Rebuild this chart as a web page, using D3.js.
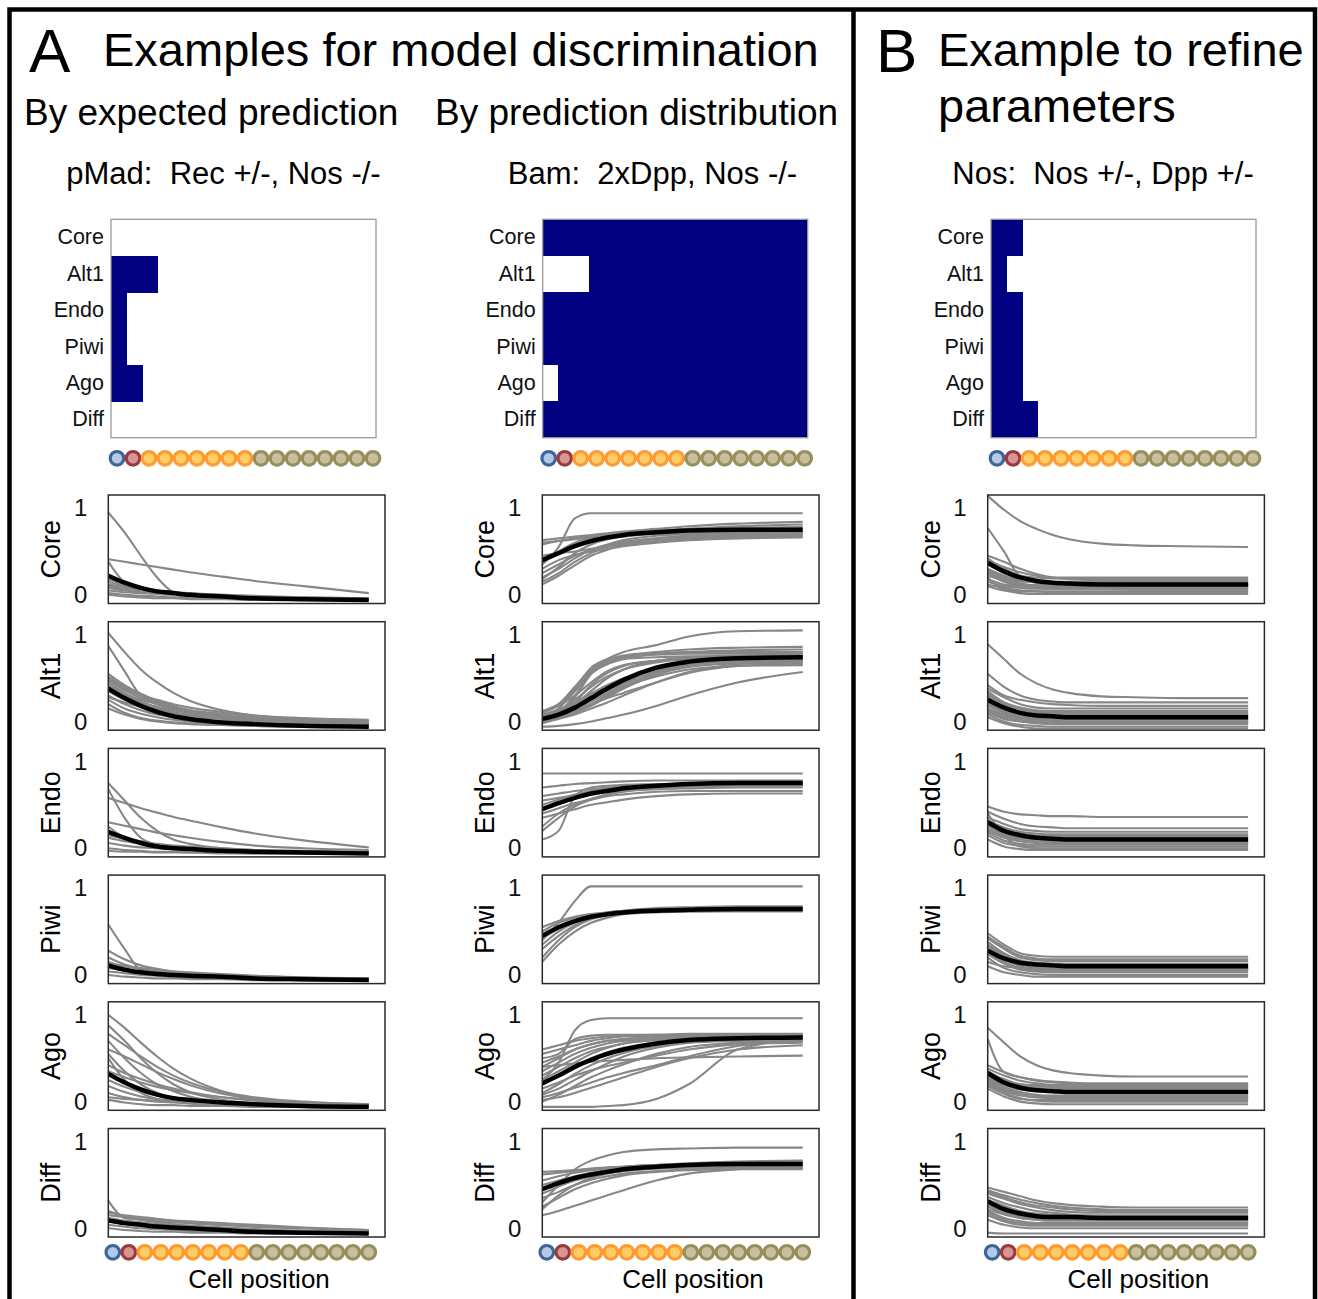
<!DOCTYPE html>
<html>
<head>
<meta charset="utf-8">
<script src="https://cdn.jsdelivr.net/npm/d3@7"></script>
<style>
  body { margin: 0; background: #fff; }
  svg { display: block; font-family: "Liberation Sans", Arial, sans-serif; }
</style>
</head>
<body>
<div id="fig"></div>
<script>
// ---- data ----
const genes = ["Core", "Alt1", "Endo", "Piwi", "Ago", "Diff"];
// 0 = GSC, 1 = CB, 2 = early cyst, 3 = late cyst
const cellStages = [0, 1, 2, 2, 2, 2, 2, 2, 2, 3, 3, 3, 3, 3, 3, 3, 3];
const stageStroke = ["#3b6697", "#973c3c", "#ff9a33", "#968f5b"];
const stageFill = ["#b3c9e5", "#d99495", "#ffcd66", "#c9bf9f"];
// cell indexes where each curve below was read
const sampleCells = [0, 1, 2, 3, 4, 5, 7, 9, 12, 16];
const yTicks = [0, 1];

const columnTitles = ["pMad:  Rec +/-, Nos -/-", "Bam:  2xDpp, Nos -/-", "Nos:  Nos +/-, Dpp +/-"];

// heatmap rows (Core..Diff), one char per cell, 1 = filled
const heatPMad = [
  "00000000000000000",
  "11100000000000000",
  "10000000000000000",
  "10000000000000000",
  "11000000000000000",
  "00000000000000000"
];
const heatBam = [
  "11111111111111111",
  "00011111111111111",
  "11111111111111111",
  "11111111111111111",
  "01111111111111111",
  "11111111111111111"
];
const heatNos = [
  "11000000000000000",
  "10000000000000000",
  "11000000000000000",
  "11000000000000000",
  "11000000000000000",
  "11100000000000000"
];

// mean prediction per gene
const pMadMean = [
  [0.22, 0.14, 0.08, 0.04, 0.02, 0.0, -0.02, -0.04, -0.05, -0.06],
  [0.38, 0.27, 0.18, 0.11, 0.06, 0.03, -0.01, -0.03, -0.05, -0.06],
  [0.19, 0.12, 0.06, 0.02, 0.0, -0.01, -0.03, -0.04, -0.05, -0.06],
  [0.11, 0.06, 0.03, 0.01, 0.0, -0.01, -0.02, -0.04, -0.05, -0.06],
  [0.32, 0.22, 0.14, 0.08, 0.04, 0.02, -0.01, -0.03, -0.05, -0.06],
  [0.09, 0.06, 0.04, 0.02, 0.01, 0.0, -0.02, -0.04, -0.05, -0.06]
];
const bamMean = [
  [0.4, 0.48, 0.56, 0.62, 0.66, 0.69, 0.72, 0.74, 0.75, 0.75],
  [0.03, 0.08, 0.16, 0.27, 0.38, 0.48, 0.62, 0.69, 0.73, 0.74],
  [0.45, 0.52, 0.58, 0.63, 0.66, 0.69, 0.72, 0.74, 0.75, 0.75],
  [0.45, 0.55, 0.62, 0.67, 0.7, 0.72, 0.74, 0.75, 0.76, 0.76],
  [0.21, 0.3, 0.4, 0.48, 0.55, 0.6, 0.67, 0.71, 0.73, 0.74],
  [0.45, 0.52, 0.58, 0.62, 0.65, 0.68, 0.71, 0.73, 0.74, 0.74]
];
const nosMean = [
  [0.37, 0.27, 0.2, 0.16, 0.14, 0.13, 0.12, 0.12, 0.12, 0.12],
  [0.25, 0.16, 0.1, 0.07, 0.06, 0.05, 0.05, 0.05, 0.05, 0.05],
  [0.3, 0.2, 0.15, 0.12, 0.11, 0.1, 0.1, 0.1, 0.1, 0.1],
  [0.28, 0.19, 0.14, 0.12, 0.11, 0.1, 0.1, 0.1, 0.1, 0.1],
  [0.33, 0.22, 0.16, 0.13, 0.12, 0.11, 0.11, 0.11, 0.11, 0.11],
  [0.31, 0.22, 0.17, 0.14, 0.13, 0.13, 0.12, 0.12, 0.12, 0.12]
];

// individual parameter sets, pMad column
const pMadCore = [
  [0.95, 0.72, 0.45, 0.2, 0.03, -0.01, -0.03, -0.04, -0.05, -0.06],
  [0.41, 0.38, 0.35, 0.32, 0.29, 0.26, 0.21, 0.16, 0.1, 0.02],
  [0.38, 0.14, 0.06, 0.03, 0.01, 0.0, -0.02, -0.03, -0.05, -0.06],
  [0.15, 0.1, 0.06, 0.03, 0.01, 0.0, -0.02, -0.03, -0.04, -0.05],
  [0.12, 0.09, 0.06, 0.04, 0.02, 0.01, -0.01, -0.03, -0.04, -0.05],
  [0.08, 0.05, 0.03, 0.01, 0.0, -0.01, -0.02, -0.03, -0.05, -0.06],
  [0.05, 0.03, 0.02, 0.01, 0.0, -0.01, -0.02, -0.03, -0.04, -0.05],
  [0.02, 0.0, -0.01, -0.02, -0.03, -0.03, -0.04, -0.05, -0.06, -0.06],
  [0.0, -0.02, -0.03, -0.04, -0.04, -0.05, -0.05, -0.06, -0.06, -0.06],
  [0.18, 0.12, 0.08, 0.05, 0.03, 0.02, 0.0, -0.02, -0.03, -0.04],
  [0.1, 0.07, 0.05, 0.03, 0.02, 0.01, 0.0, -0.01, -0.03, -0.04]
];
const pMadAlt1 = [
  [1.02, 0.8, 0.6, 0.45, 0.33, 0.24, 0.13, 0.07, 0.03, 0.0],
  [0.87, 0.58, 0.3, 0.22, 0.16, 0.12, 0.07, 0.04, 0.02, 0.0],
  [0.55, 0.42, 0.32, 0.24, 0.18, 0.13, 0.07, 0.04, 0.01, -0.02],
  [0.5, 0.38, 0.3, 0.25, 0.2, 0.16, 0.11, 0.07, 0.04, 0.02],
  [0.48, 0.36, 0.27, 0.2, 0.14, 0.1, 0.05, 0.02, 0.0, -0.02],
  [0.45, 0.33, 0.23, 0.16, 0.11, 0.07, 0.03, 0.01, -0.01, -0.03],
  [0.42, 0.32, 0.25, 0.2, 0.16, 0.13, 0.09, 0.06, 0.03, 0.01],
  [0.35, 0.25, 0.17, 0.11, 0.07, 0.04, 0.0, -0.02, -0.03, -0.04],
  [0.3, 0.2, 0.13, 0.08, 0.05, 0.02, -0.01, -0.03, -0.04, -0.05],
  [0.25, 0.15, 0.09, 0.05, 0.02, 0.0, -0.02, -0.03, -0.05, -0.06],
  [0.2, 0.1, 0.04, 0.01, -0.01, -0.02, -0.04, -0.05, -0.06, -0.06],
  [0.15, 0.08, 0.03, 0.0, -0.02, -0.03, -0.04, -0.05, -0.06, -0.06],
  [0.4, 0.3, 0.22, 0.17, 0.13, 0.1, 0.06, 0.03, 0.01, 0.0],
  [0.38, 0.28, 0.2, 0.14, 0.1, 0.07, 0.03, 0.0, -0.02, -0.03],
  [0.52, 0.4, 0.3, 0.23, 0.17, 0.12, 0.06, 0.02, 0.0, -0.02],
  [0.28, 0.22, 0.17, 0.13, 0.1, 0.08, 0.05, 0.03, 0.01, 0.0]
];
const pMadEndo = [
  [0.75, 0.55, 0.35, 0.2, 0.1, 0.05, 0.0, -0.02, -0.04, -0.05],
  [0.68, 0.35, 0.12, 0.04, 0.0, -0.02, -0.03, -0.04, -0.05, -0.06],
  [0.58, 0.52, 0.46, 0.41, 0.36, 0.32, 0.24, 0.17, 0.09, 0.01],
  [0.3, 0.26, 0.22, 0.18, 0.15, 0.12, 0.07, 0.03, 0.0, -0.02],
  [0.2, 0.13, 0.08, 0.04, 0.01, 0.0, -0.02, -0.03, -0.04, -0.05],
  [0.12, 0.08, 0.05, 0.02, 0.0, -0.01, -0.02, -0.04, -0.05, -0.06],
  [0.06, 0.03, 0.01, 0.0, -0.01, -0.02, -0.03, -0.04, -0.05, -0.06],
  [0.0, -0.02, -0.03, -0.04, -0.04, -0.05, -0.05, -0.06, -0.06, -0.06],
  [0.15, 0.11, 0.08, 0.05, 0.03, 0.02, 0.0, -0.02, -0.03, -0.04],
  [0.25, 0.12, 0.05, 0.02, 0.0, -0.01, -0.03, -0.04, -0.05, -0.06],
  [-0.03, -0.04, -0.04, -0.05, -0.05, -0.05, -0.06, -0.06, -0.06, -0.06]
];
const pMadPiwi = [
  [0.58, 0.3, 0.05, 0.0, -0.02, -0.03, -0.04, -0.05, -0.06, -0.06],
  [0.28, 0.18, 0.11, 0.07, 0.04, 0.02, 0.0, -0.02, -0.03, -0.04],
  [0.2, 0.12, 0.07, 0.04, 0.02, 0.0, -0.02, -0.03, -0.04, -0.05],
  [0.15, 0.1, 0.07, 0.05, 0.03, 0.02, 0.0, -0.01, -0.03, -0.04],
  [0.08, 0.05, 0.03, 0.01, 0.0, -0.01, -0.02, -0.03, -0.05, -0.06],
  [0.04, 0.02, 0.0, -0.01, -0.02, -0.03, -0.04, -0.05, -0.06, -0.06],
  [0.0, -0.02, -0.03, -0.04, -0.04, -0.05, -0.05, -0.06, -0.06, -0.06],
  [0.12, 0.1, 0.08, 0.06, 0.04, 0.03, 0.01, -0.01, -0.03, -0.04]
];
const pMadAgo = [
  [1.0, 0.85, 0.68, 0.52, 0.38, 0.27, 0.12, 0.04, -0.02, -0.04],
  [0.88, 0.7, 0.5, 0.33, 0.2, 0.11, 0.02, -0.02, -0.04, -0.05],
  [0.78, 0.65, 0.52, 0.4, 0.3, 0.22, 0.11, 0.05, 0.0, -0.03],
  [0.7, 0.5, 0.33, 0.2, 0.12, 0.06, 0.0, -0.03, -0.04, -0.05],
  [0.6, 0.52, 0.43, 0.34, 0.26, 0.19, 0.09, 0.03, -0.01, -0.03],
  [0.55, 0.35, 0.2, 0.1, 0.04, 0.0, -0.03, -0.04, -0.05, -0.06],
  [0.5, 0.25, 0.1, 0.03, 0.0, -0.02, -0.04, -0.05, -0.06, -0.06],
  [0.42, 0.33, 0.26, 0.2, 0.15, 0.11, 0.05, 0.01, -0.02, -0.04],
  [0.35, 0.28, 0.22, 0.17, 0.13, 0.1, 0.05, 0.02, -0.01, -0.03],
  [0.25, 0.17, 0.11, 0.07, 0.04, 0.02, -0.01, -0.03, -0.04, -0.05],
  [0.18, 0.11, 0.06, 0.03, 0.01, 0.0, -0.02, -0.04, -0.05, -0.06],
  [0.1, 0.05, 0.02, 0.0, -0.01, -0.02, -0.03, -0.04, -0.05, -0.06],
  [0.02, -0.01, -0.03, -0.04, -0.04, -0.05, -0.05, -0.06, -0.06, -0.06],
  [0.05, 0.03, 0.02, 0.01, 0.0, -0.01, -0.02, -0.03, -0.04, -0.05]
];
const pMadDiff = [
  [0.32, 0.12, 0.1, 0.08, 0.07, 0.06, 0.04, 0.02, 0.0, -0.02],
  [0.18, 0.15, 0.13, 0.11, 0.09, 0.08, 0.06, 0.04, 0.01, -0.02],
  [0.15, 0.13, 0.11, 0.09, 0.08, 0.06, 0.04, 0.02, 0.0, -0.03],
  [0.12, 0.09, 0.07, 0.05, 0.04, 0.03, 0.01, -0.01, -0.03, -0.04],
  [0.08, 0.05, 0.03, 0.02, 0.01, 0.0, -0.02, -0.03, -0.05, -0.06],
  [0.04, 0.02, 0.0, -0.01, -0.02, -0.03, -0.04, -0.05, -0.06, -0.06],
  [0.0, -0.02, -0.03, -0.04, -0.04, -0.05, -0.05, -0.06, -0.06, -0.06],
  [0.2, 0.14, 0.1, 0.07, 0.05, 0.03, 0.01, -0.01, -0.03, -0.04]
];

// Bam column
const bamCore = [
  [0.35, 0.55, 0.88, 0.94, 0.94, 0.94, 0.94, 0.94, 0.94, 0.94],
  [0.63, 0.65, 0.67, 0.69, 0.71, 0.73, 0.76, 0.79, 0.82, 0.84],
  [0.6, 0.62, 0.64, 0.66, 0.68, 0.7, 0.73, 0.76, 0.79, 0.81],
  [0.58, 0.62, 0.65, 0.68, 0.7, 0.72, 0.74, 0.76, 0.77, 0.78],
  [0.2, 0.3, 0.42, 0.52, 0.58, 0.63, 0.68, 0.7, 0.71, 0.72],
  [0.15, 0.25, 0.38, 0.48, 0.55, 0.6, 0.65, 0.68, 0.69, 0.7],
  [0.12, 0.22, 0.34, 0.45, 0.52, 0.58, 0.64, 0.67, 0.68, 0.69],
  [0.3, 0.4, 0.46, 0.5, 0.53, 0.56, 0.6, 0.63, 0.65, 0.66],
  [0.25, 0.35, 0.45, 0.52, 0.57, 0.61, 0.65, 0.67, 0.68, 0.68],
  [0.45, 0.48, 0.5, 0.53, 0.56, 0.58, 0.62, 0.65, 0.67, 0.68],
  [0.18, 0.32, 0.48, 0.58, 0.64, 0.67, 0.7, 0.71, 0.72, 0.72],
  [0.38, 0.5, 0.6, 0.66, 0.7, 0.72, 0.74, 0.75, 0.76, 0.76]
];
const bamAlt1 = [
  [0.02, 0.1, 0.28, 0.55, 0.72, 0.8, 0.88, 0.98, 1.04, 1.05],
  [0.03, 0.15, 0.38, 0.62, 0.72, 0.76, 0.8, 0.83, 0.85, 0.86],
  [0.0, 0.1, 0.3, 0.55, 0.66, 0.72, 0.78, 0.8, 0.82, 0.83],
  [0.05, 0.12, 0.25, 0.4, 0.52, 0.6, 0.68, 0.72, 0.74, 0.75],
  [0.08, 0.14, 0.22, 0.32, 0.42, 0.5, 0.6, 0.66, 0.69, 0.7],
  [0.0, 0.05, 0.12, 0.2, 0.3, 0.4, 0.56, 0.65, 0.7, 0.72],
  [0.02, 0.06, 0.12, 0.2, 0.27, 0.33, 0.45, 0.56, 0.64, 0.67],
  [-0.02, 0.03, 0.08, 0.15, 0.22, 0.3, 0.45, 0.57, 0.66, 0.7],
  [0.1, 0.18, 0.3, 0.45, 0.58, 0.65, 0.7, 0.72, 0.73, 0.73],
  [-0.06, -0.05, -0.03, 0.0, 0.04, 0.08, 0.18, 0.3, 0.45, 0.57],
  [0.04, 0.1, 0.2, 0.35, 0.5, 0.6, 0.7, 0.74, 0.76, 0.77],
  [0.06, 0.1, 0.17, 0.26, 0.36, 0.45, 0.58, 0.66, 0.7, 0.71],
  [0.0, 0.04, 0.1, 0.18, 0.28, 0.38, 0.54, 0.63, 0.67, 0.68],
  [0.12, 0.2, 0.35, 0.55, 0.68, 0.74, 0.78, 0.8, 0.8, 0.8],
  [0.02, 0.08, 0.15, 0.24, 0.32, 0.4, 0.52, 0.6, 0.64, 0.65],
  [0.05, 0.15, 0.35, 0.58, 0.68, 0.72, 0.74, 0.75, 0.75, 0.75],
  [0.0, 0.08, 0.22, 0.42, 0.56, 0.64, 0.7, 0.72, 0.72, 0.72],
  [0.07, 0.12, 0.2, 0.3, 0.4, 0.48, 0.6, 0.67, 0.71, 0.72],
  [0.03, 0.07, 0.14, 0.23, 0.33, 0.43, 0.58, 0.67, 0.71, 0.73],
  [0.1, 0.2, 0.4, 0.6, 0.7, 0.74, 0.77, 0.78, 0.78, 0.78]
];
const bamEndo = [
  [0.86, 0.86, 0.86, 0.86, 0.86, 0.86, 0.86, 0.86, 0.86, 0.86],
  [0.7, 0.72, 0.74, 0.75, 0.76, 0.77, 0.78, 0.78, 0.78, 0.78],
  [0.1, 0.2, 0.6, 0.7, 0.72, 0.73, 0.74, 0.74, 0.74, 0.74],
  [0.25, 0.4, 0.5, 0.57, 0.62, 0.65, 0.69, 0.71, 0.72, 0.72],
  [0.55, 0.58, 0.61, 0.63, 0.65, 0.66, 0.68, 0.69, 0.7, 0.7],
  [0.4, 0.46, 0.52, 0.56, 0.6, 0.62, 0.65, 0.66, 0.66, 0.66],
  [0.35, 0.4, 0.45, 0.5, 0.53, 0.56, 0.6, 0.62, 0.63, 0.63],
  [0.5, 0.56, 0.62, 0.66, 0.69, 0.71, 0.73, 0.75, 0.76, 0.76],
  [0.2, 0.35, 0.48, 0.56, 0.62, 0.66, 0.7, 0.72, 0.73, 0.73],
  [0.6, 0.63, 0.66, 0.68, 0.7, 0.71, 0.72, 0.73, 0.73, 0.73]
];
const bamPiwi = [
  [0.4, 0.6, 0.85, 1.02, 1.02, 1.02, 1.02, 1.02, 1.02, 1.02],
  [0.2, 0.4, 0.55, 0.64, 0.69, 0.72, 0.74, 0.75, 0.75, 0.75],
  [0.3, 0.45, 0.57, 0.65, 0.7, 0.72, 0.74, 0.75, 0.76, 0.76],
  [0.5, 0.6, 0.66, 0.7, 0.72, 0.74, 0.76, 0.77, 0.78, 0.78],
  [0.55, 0.62, 0.67, 0.7, 0.72, 0.73, 0.74, 0.74, 0.74, 0.74],
  [0.35, 0.5, 0.6, 0.66, 0.7, 0.72, 0.73, 0.73, 0.73, 0.73],
  [0.42, 0.53, 0.62, 0.68, 0.72, 0.74, 0.77, 0.78, 0.79, 0.79],
  [0.15, 0.35, 0.5, 0.6, 0.66, 0.7, 0.72, 0.73, 0.74, 0.74]
];
const bamAgo = [
  [0.25, 0.45, 0.82, 0.94, 0.96, 0.96, 0.96, 0.96, 0.96, 0.96],
  [0.5, 0.55, 0.72, 0.76, 0.77, 0.77, 0.77, 0.77, 0.77, 0.77],
  [0.55, 0.6, 0.65, 0.7, 0.73, 0.75, 0.76, 0.77, 0.77, 0.77],
  [-0.06, -0.06, -0.06, -0.06, -0.05, -0.04, 0.03, 0.2, 0.6, 0.72],
  [0.4, 0.42, 0.44, 0.46, 0.47, 0.48, 0.5, 0.51, 0.52, 0.53],
  [0.0, 0.08, 0.18, 0.28, 0.36, 0.43, 0.55, 0.63, 0.68, 0.7],
  [0.1, 0.2, 0.32, 0.42, 0.5, 0.56, 0.64, 0.68, 0.7, 0.71],
  [0.3, 0.4, 0.5, 0.58, 0.63, 0.67, 0.71, 0.73, 0.74, 0.74],
  [0.45, 0.52, 0.6, 0.66, 0.7, 0.72, 0.74, 0.75, 0.75, 0.75],
  [0.05, 0.1, 0.16, 0.22, 0.28, 0.33, 0.42, 0.52, 0.64, 0.7],
  [0.15, 0.22, 0.3, 0.36, 0.41, 0.45, 0.53, 0.6, 0.66, 0.68],
  [0.35, 0.45, 0.55, 0.62, 0.67, 0.7, 0.72, 0.73, 0.73, 0.73],
  [0.2, 0.3, 0.4, 0.5, 0.57, 0.62, 0.68, 0.71, 0.72, 0.72],
  [0.02, 0.05, 0.1, 0.16, 0.22, 0.28, 0.4, 0.5, 0.6, 0.65],
  [0.6, 0.65, 0.7, 0.73, 0.75, 0.76, 0.77, 0.78, 0.78, 0.78],
  [0.25, 0.35, 0.45, 0.55, 0.62, 0.67, 0.71, 0.73, 0.74, 0.74],
  [0.4, 0.5, 0.6, 0.66, 0.7, 0.72, 0.74, 0.75, 0.76, 0.76],
  [0.08, 0.15, 0.25, 0.35, 0.44, 0.52, 0.62, 0.68, 0.71, 0.72]
];
const bamDiff = [
  [0.3, 0.5, 0.68, 0.78, 0.84, 0.88, 0.91, 0.92, 0.93, 0.93],
  [0.65, 0.66, 0.67, 0.69, 0.7, 0.71, 0.73, 0.75, 0.77, 0.78],
  [0.62, 0.64, 0.66, 0.68, 0.7, 0.71, 0.73, 0.74, 0.75, 0.76],
  [0.15, 0.2, 0.26, 0.32, 0.38, 0.44, 0.55, 0.63, 0.68, 0.7],
  [0.22, 0.38, 0.5, 0.58, 0.63, 0.66, 0.69, 0.7, 0.71, 0.71],
  [0.35, 0.42, 0.5, 0.56, 0.6, 0.63, 0.66, 0.68, 0.69, 0.69],
  [0.4, 0.48, 0.55, 0.6, 0.64, 0.66, 0.69, 0.7, 0.7, 0.7],
  [0.25, 0.35, 0.45, 0.52, 0.57, 0.61, 0.65, 0.67, 0.68, 0.68],
  [0.5, 0.55, 0.6, 0.64, 0.67, 0.69, 0.72, 0.73, 0.74, 0.74],
  [0.55, 0.6, 0.64, 0.67, 0.69, 0.71, 0.73, 0.74, 0.75, 0.75]
];

// Nos column
const nosCore = [
  [1.14, 0.98, 0.85, 0.76, 0.69, 0.64, 0.59, 0.57, 0.56, 0.55],
  [0.77, 0.5, 0.22, 0.2, 0.19, 0.19, 0.19, 0.19, 0.19, 0.19],
  [0.45, 0.38, 0.3, 0.24, 0.2, 0.18, 0.17, 0.17, 0.17, 0.17],
  [0.42, 0.3, 0.22, 0.17, 0.14, 0.13, 0.12, 0.12, 0.12, 0.12],
  [0.4, 0.32, 0.26, 0.22, 0.2, 0.2, 0.2, 0.2, 0.2, 0.2],
  [0.3, 0.22, 0.17, 0.14, 0.13, 0.12, 0.12, 0.12, 0.12, 0.12],
  [0.35, 0.25, 0.18, 0.14, 0.11, 0.1, 0.09, 0.09, 0.09, 0.09],
  [0.2, 0.06, 0.04, 0.04, 0.04, 0.04, 0.04, 0.04, 0.04, 0.04],
  [0.15, 0.1, 0.08, 0.07, 0.07, 0.07, 0.07, 0.07, 0.07, 0.07],
  [0.25, 0.15, 0.1, 0.08, 0.07, 0.07, 0.07, 0.06, 0.06, 0.06],
  [0.1, 0.05, 0.02, 0.01, 0.01, 0.01, 0.01, 0.01, 0.01, 0.01],
  [0.3, 0.18, 0.13, 0.11, 0.11, 0.11, 0.1, 0.1, 0.1, 0.1],
  [0.22, 0.17, 0.15, 0.15, 0.15, 0.15, 0.15, 0.15, 0.15, 0.15],
  [0.12, 0.08, 0.05, 0.04, 0.03, 0.03, 0.03, 0.03, 0.03, 0.03],
  [0.28, 0.2, 0.16, 0.15, 0.14, 0.14, 0.14, 0.14, 0.14, 0.14],
  [0.18, 0.12, 0.1, 0.09, 0.09, 0.09, 0.09, 0.09, 0.09, 0.09],
  [0.26, 0.16, 0.12, 0.11, 0.11, 0.11, 0.11, 0.11, 0.11, 0.11]
];
const nosAlt1 = [
  [0.89, 0.72, 0.55, 0.44, 0.37, 0.33, 0.29, 0.28, 0.27, 0.27],
  [0.55, 0.4, 0.3, 0.25, 0.23, 0.22, 0.22, 0.22, 0.22, 0.22],
  [0.42, 0.3, 0.25, 0.22, 0.2, 0.19, 0.18, 0.18, 0.18, 0.18],
  [0.38, 0.28, 0.2, 0.16, 0.15, 0.15, 0.15, 0.15, 0.15, 0.15],
  [0.35, 0.22, 0.15, 0.12, 0.11, 0.11, 0.11, 0.11, 0.11, 0.11],
  [0.3, 0.2, 0.14, 0.11, 0.09, 0.08, 0.08, 0.08, 0.08, 0.08],
  [0.22, 0.12, 0.07, 0.04, 0.03, 0.03, 0.03, 0.03, 0.03, 0.03],
  [0.18, 0.1, 0.05, 0.02, 0.01, 0.0, 0.0, 0.0, 0.0, 0.0],
  [0.12, 0.04, 0.0, -0.02, -0.03, -0.03, -0.03, -0.03, -0.03, -0.03],
  [0.08, 0.0, -0.04, -0.05, -0.06, -0.06, -0.06, -0.06, -0.06, -0.06],
  [0.05, -0.02, -0.06, -0.08, -0.08, -0.08, -0.08, -0.08, -0.08, -0.08],
  [0.28, 0.15, 0.1, 0.08, 0.07, 0.07, 0.07, 0.07, 0.07, 0.07],
  [0.15, 0.08, 0.04, 0.02, 0.02, 0.02, 0.02, 0.02, 0.02, 0.02],
  [0.25, 0.17, 0.12, 0.1, 0.09, 0.09, 0.09, 0.09, 0.09, 0.09],
  [0.2, 0.12, 0.08, 0.06, 0.05, 0.05, 0.05, 0.05, 0.05, 0.05],
  [0.1, 0.03, 0.0, -0.01, -0.01, -0.01, -0.01, -0.01, -0.01, -0.01],
  [0.32, 0.22, 0.16, 0.13, 0.12, 0.12, 0.12, 0.12, 0.12, 0.12],
  [0.14, 0.06, 0.02, 0.0, -0.01, -0.01, -0.01, -0.01, -0.01, -0.01]
];
const nosEndo = [
  [0.48, 0.42, 0.39, 0.38, 0.37, 0.37, 0.36, 0.36, 0.36, 0.36],
  [0.42, 0.34, 0.28, 0.25, 0.24, 0.23, 0.23, 0.23, 0.23, 0.23],
  [0.35, 0.28, 0.22, 0.2, 0.19, 0.19, 0.19, 0.19, 0.19, 0.19],
  [0.3, 0.22, 0.17, 0.15, 0.14, 0.14, 0.14, 0.14, 0.14, 0.14],
  [0.25, 0.16, 0.12, 0.1, 0.09, 0.09, 0.09, 0.09, 0.09, 0.09],
  [0.2, 0.12, 0.08, 0.06, 0.05, 0.05, 0.05, 0.05, 0.05, 0.05],
  [0.15, 0.06, 0.03, 0.02, 0.02, 0.02, 0.02, 0.02, 0.02, 0.02],
  [0.4, 0.15, 0.02, 0.0, 0.0, 0.0, 0.0, 0.0, 0.0, 0.0],
  [0.1, 0.02, -0.01, -0.02, -0.02, -0.02, -0.02, -0.02, -0.02, -0.02],
  [0.28, 0.2, 0.16, 0.14, 0.13, 0.13, 0.13, 0.13, 0.13, 0.13],
  [0.32, 0.24, 0.19, 0.17, 0.16, 0.16, 0.16, 0.16, 0.16, 0.16],
  [0.22, 0.14, 0.1, 0.08, 0.07, 0.07, 0.07, 0.07, 0.07, 0.07],
  [0.18, 0.09, 0.05, 0.04, 0.04, 0.04, 0.04, 0.04, 0.04, 0.04]
];
const nosPiwi = [
  [0.48, 0.35, 0.25, 0.22, 0.21, 0.21, 0.21, 0.21, 0.21, 0.21],
  [0.42, 0.3, 0.2, 0.17, 0.16, 0.16, 0.16, 0.16, 0.16, 0.16],
  [0.38, 0.25, 0.17, 0.14, 0.13, 0.13, 0.13, 0.13, 0.13, 0.13],
  [0.33, 0.22, 0.14, 0.11, 0.1, 0.1, 0.1, 0.1, 0.1, 0.1],
  [0.28, 0.18, 0.1, 0.07, 0.06, 0.06, 0.06, 0.06, 0.06, 0.06],
  [0.24, 0.13, 0.06, 0.04, 0.03, 0.03, 0.03, 0.03, 0.03, 0.03],
  [0.2, 0.08, 0.03, 0.01, 0.0, 0.0, 0.0, 0.0, 0.0, 0.0],
  [0.15, 0.1, 0.08, 0.07, 0.07, 0.07, 0.07, 0.07, 0.07, 0.07],
  [0.1, 0.03, 0.0, -0.02, -0.02, -0.02, -0.02, -0.02, -0.02, -0.02],
  [0.3, 0.2, 0.12, 0.09, 0.08, 0.08, 0.08, 0.08, 0.08, 0.08],
  [0.44, 0.32, 0.22, 0.19, 0.18, 0.18, 0.18, 0.18, 0.18, 0.18],
  [0.35, 0.24, 0.16, 0.12, 0.12, 0.12, 0.12, 0.12, 0.12, 0.12],
  [0.26, 0.15, 0.08, 0.05, 0.05, 0.05, 0.05, 0.05, 0.05, 0.05]
];
const nosAgo = [
  [0.85, 0.68, 0.52, 0.42, 0.36, 0.33, 0.3, 0.29, 0.29, 0.29],
  [0.72, 0.34, 0.28, 0.24, 0.22, 0.21, 0.2, 0.2, 0.2, 0.2],
  [0.42, 0.34, 0.28, 0.25, 0.23, 0.22, 0.21, 0.21, 0.21, 0.21],
  [0.38, 0.3, 0.24, 0.21, 0.19, 0.18, 0.18, 0.18, 0.18, 0.18],
  [0.35, 0.25, 0.19, 0.16, 0.15, 0.15, 0.15, 0.15, 0.15, 0.15],
  [0.3, 0.21, 0.15, 0.12, 0.11, 0.11, 0.11, 0.11, 0.11, 0.11],
  [0.27, 0.17, 0.11, 0.08, 0.07, 0.07, 0.07, 0.07, 0.07, 0.07],
  [0.24, 0.14, 0.08, 0.05, 0.04, 0.04, 0.04, 0.04, 0.04, 0.04],
  [0.2, 0.1, 0.04, 0.01, 0.0, 0.0, 0.0, 0.0, 0.0, 0.0],
  [0.15, 0.06, 0.0, -0.02, -0.03, -0.03, -0.03, -0.03, -0.03, -0.03],
  [0.32, 0.24, 0.2, 0.18, 0.17, 0.17, 0.17, 0.17, 0.17, 0.17],
  [0.25, 0.15, 0.1, 0.07, 0.06, 0.06, 0.06, 0.06, 0.06, 0.06],
  [0.28, 0.19, 0.14, 0.13, 0.13, 0.13, 0.13, 0.13, 0.13, 0.13],
  [0.22, 0.12, 0.07, 0.05, 0.05, 0.05, 0.05, 0.05, 0.05, 0.05],
  [0.18, 0.09, 0.03, 0.02, 0.02, 0.02, 0.02, 0.02, 0.02, 0.02],
  [0.34, 0.26, 0.2, 0.19, 0.19, 0.19, 0.19, 0.19, 0.19, 0.19]
];
const nosDiff = [
  [0.47, 0.42, 0.37, 0.32, 0.29, 0.27, 0.25, 0.24, 0.24, 0.24],
  [0.44, 0.38, 0.33, 0.29, 0.26, 0.24, 0.22, 0.21, 0.21, 0.21],
  [0.4, 0.34, 0.28, 0.24, 0.21, 0.19, 0.18, 0.18, 0.18, 0.18],
  [0.36, 0.29, 0.24, 0.2, 0.18, 0.16, 0.15, 0.15, 0.15, 0.15],
  [0.3, 0.22, 0.17, 0.14, 0.13, 0.12, 0.12, 0.12, 0.12, 0.12],
  [0.25, 0.17, 0.12, 0.1, 0.09, 0.09, 0.09, 0.09, 0.09, 0.09],
  [0.2, 0.12, 0.08, 0.06, 0.06, 0.06, 0.06, 0.06, 0.06, 0.06],
  [0.15, 0.08, 0.04, 0.03, 0.03, 0.03, 0.03, 0.03, 0.03, 0.03],
  [0.1, 0.04, 0.01, 0.0, 0.0, 0.0, 0.0, 0.0, 0.0, 0.0],
  [-0.05, -0.06, -0.06, -0.06, -0.06, -0.06, -0.06, -0.06, -0.06, -0.06],
  [0.22, 0.16, 0.12, 0.1, 0.09, 0.09, 0.09, 0.09, 0.09, 0.09],
  [0.33, 0.26, 0.2, 0.17, 0.16, 0.15, 0.14, 0.14, 0.14, 0.14],
  [0.27, 0.19, 0.14, 0.11, 0.1, 0.1, 0.1, 0.1, 0.1, 0.1],
  [0.42, 0.36, 0.3, 0.26, 0.24, 0.22, 0.2, 0.2, 0.2, 0.2],
  [0.18, 0.1, 0.06, 0.05, 0.05, 0.05, 0.05, 0.05, 0.05, 0.05]
];

const pMadRuns = [pMadCore, pMadAlt1, pMadEndo, pMadPiwi, pMadAgo, pMadDiff];
const bamRuns = [bamCore, bamAlt1, bamEndo, bamPiwi, bamAgo, bamDiff];
const nosRuns = [nosCore, nosAlt1, nosEndo, nosPiwi, nosAgo, nosDiff];

// ---- layout ----
const W = 1318, H = 1299;
const heatW = 265, heatH = 218.4, heatTop = 219.3;
const panelW = 276.7, panelH = 108.5, panelTop = 495, panelStep = 126.7;

const columns = [
  { heatX: 111,   lineX: 108.3, titleX: 223.5, heat: heatPMad, mean: pMadMean, runs: pMadRuns },
  { heatX: 542.7, lineX: 542.3, titleX: 652.5, heat: heatBam,  mean: bamMean,  runs: bamRuns },
  { heatX: 991,   lineX: 987.7, titleX: 1103,  heat: heatNos,  mean: nosMean,  runs: nosRuns }
];

const svg = d3.select("#fig").append("svg")
    .attr("width", W)
    .attr("height", H);

svg.append("rect").attr("width", W).attr("height", H).attr("fill", "#fff");

// frame + divider
svg.append("path")
    .attr("d", "M9.5,1312V9.5H1315V1312M853.5,9.5V1312")
    .attr("fill", "none")
    .attr("stroke", "#000")
    .attr("stroke-width", 4.5);

// headings
function txt(x, y, s, size, anchor) {
  return svg.append("text")
      .attr("x", x).attr("y", y)
      .attr("font-size", size)
      .attr("text-anchor", anchor || "start")
      .style("white-space", "pre")
      .text(s);
}
txt(29, 72, "A", 62);
txt(103, 66, "Examples for model discrimination", 47);
txt(24, 125, "By expected prediction", 37);
txt(435, 125, "By prediction distribution", 37);
txt(876, 72, "B", 62);
txt(938, 66, "Example to refine", 47);
txt(938, 122, "parameters", 47);

const xh = d3.scaleBand().domain(d3.range(17)).range([0, heatW]);
const yh = d3.scaleBand().domain(genes).range([0, heatH]);
const xl = d3.scaleLinear().domain([0, 17]).range([0, panelW]);
const yl = d3.scaleLinear().domain([-0.1, 1.15]).range([panelH, 0]);
const line = d3.line()
    .x((d, i) => xl(sampleCells[i]))
    .y(d => yl(d))
    .curve(d3.curveMonotoneX);

function drawCells(g, cy) {
  const cx = d3.scaleLinear().domain([0, 16]).range([0, 256]);
  g.selectAll("circle")
    .data(cellStages)
    .enter().append("circle")
      .attr("cx", (d, i) => cx(i))
      .attr("cy", cy)
      .attr("r", 6.8)
      .attr("fill", d => stageFill[d])
      .attr("stroke", d => stageStroke[d])
      .attr("stroke-width", 3.2);
}

columns.forEach(function(col, c) {
  txt(col.titleX, 184, columnTitles[c], 31, "middle");

  // heatmap
  const hg = svg.append("g").attr("transform", `translate(${col.heatX},${heatTop})`);
  const cells = [];
  col.heat.forEach((row, r) => row.split("").forEach((v, k) => {
    if (v === "1") cells.push({ gene: genes[r], k: k });
  }));
  hg.selectAll("rect.cell")
    .data(cells)
    .enter().append("rect")
      .attr("class", "cell")
      .attr("x", d => xh(d.k))
      .attr("y", d => yh(d.gene))
      .attr("width", xh.bandwidth() + 0.5)
      .attr("height", yh.bandwidth() + 0.5)
      .attr("fill", "#000080")
      .attr("shape-rendering", "crispEdges");
  hg.append("rect")
      .attr("width", heatW).attr("height", heatH)
      .attr("fill", "none")
      .attr("stroke", "#9a9a9a")
      .attr("stroke-width", 1.3);
  const ay = hg.append("g").call(d3.axisLeft(yh).tickSize(0).tickPadding(7));
  ay.select(".domain").remove();
  ay.attr("font-size", 21.5).attr("font-family", null);
  ay.selectAll("text").attr("fill", "#111");

  drawCells(svg.append("g").attr("transform", `translate(${col.heatX + 6},0)`), 458.3);

  // line panels
  genes.forEach(function(gene, r) {
    const g = svg.append("g")
        .attr("transform", `translate(${col.lineX},${panelTop + r * panelStep})`);
    const clipId = `clip-${c}-${r}`;
    g.append("clipPath").attr("id", clipId)
      .append("rect").attr("width", panelW).attr("height", panelH);
    const lg = g.append("g").attr("clip-path", `url(#${clipId})`);
    lg.selectAll("path.run")
      .data(col.runs[r])
      .enter().append("path")
        .attr("class", "run")
        .attr("d", line)
        .attr("fill", "none")
        .attr("stroke", "#878787")
        .attr("stroke-width", 2.1);
    lg.append("path")
        .attr("d", line(col.mean[r]))
        .attr("fill", "none")
        .attr("stroke", "#000")
        .attr("stroke-width", 4.5);
    g.append("rect")
        .attr("width", panelW).attr("height", panelH)
        .attr("fill", "none")
        .attr("stroke", "#2a2a2a")
        .attr("stroke-width", 1.5);
    const ax = g.append("g")
        .call(d3.axisLeft(yl).tickValues(yTicks).tickFormat(d3.format("d")).tickSize(0).tickPadding(21));
    ax.select(".domain").remove();
    ax.attr("font-size", 24).attr("font-family", null);
    ax.selectAll("text").attr("fill", "#111");
    g.append("text")
        .attr("transform", `translate(-48,${panelH / 2}) rotate(-90)`)
        .attr("text-anchor", "middle")
        .attr("font-size", 27)
        .text(gene);
  });

  drawCells(svg.append("g").attr("transform", `translate(${col.lineX + 4.5},0)`), 1252.3);
  txt(col.lineX + 150.7, 1288, "Cell position", 26, "middle");
});
</script>
</body>
</html>
